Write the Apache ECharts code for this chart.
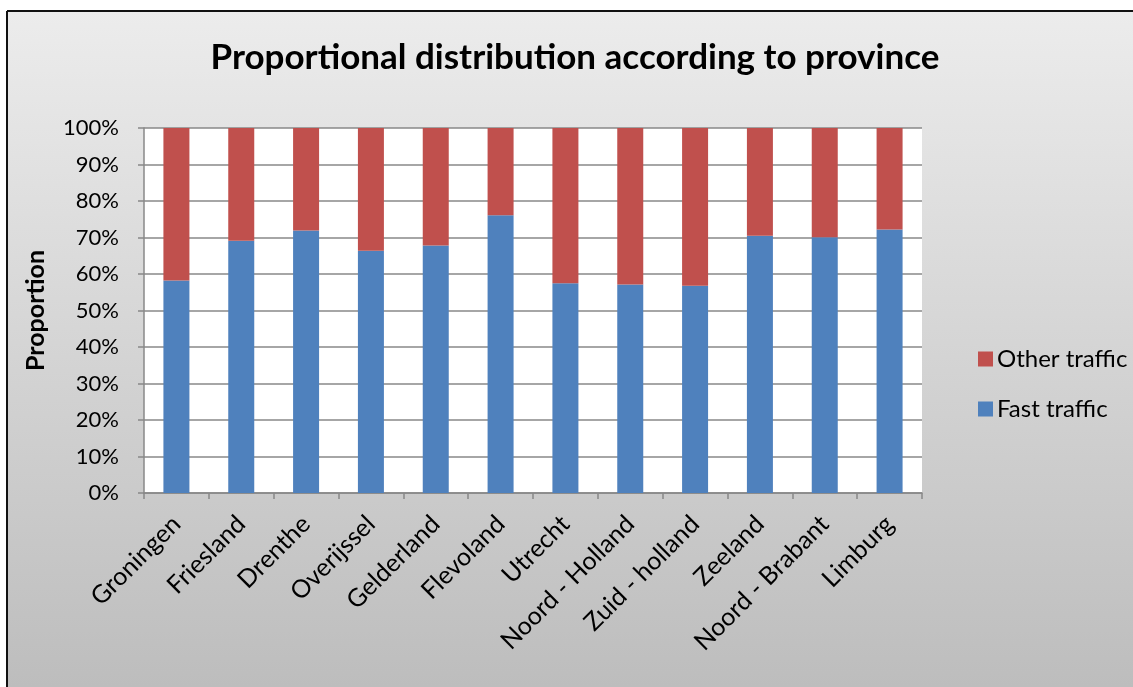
<!DOCTYPE html>
<html>
<head>
<meta charset="utf-8">
<script src="https://cdn.jsdelivr.net/npm/echarts@6/dist/echarts.min.js"></script>
<style>
html,body{margin:0;padding:0;background:#fff;}
#c{width:1133px;height:687px;}
</style>
</head>
<body>
<div id="c"></div>
<script>
const categories = ['Groningen','Friesland','Drenthe','Overijssel','Gelderland','Flevoland','Utrecht','Noord - Holland','Zuid - holland','Zeeland','Noord - Brabant','Limburg'];
const fastTraffic = [58.2, 69.1, 71.9, 66.4, 67.8, 76.1, 57.5, 57.1, 56.8, 70.5, 70.1, 72.2];
const otherTraffic = [41.8, 30.9, 28.1, 33.6, 32.2, 23.9, 42.5, 42.9, 43.2, 29.5, 29.9, 27.8];
const titleText = 'Proportional distribution according to province';
const yAxisName = 'Proportion';

const FONT = 'Lato, "Open Sans", sans-serif';
const chart = echarts.init(document.getElementById('c'));
chart.setOption({
  backgroundColor: 'transparent',
  animation: false,
  graphic: [
    {type:'rect', z:-10, silent:true, shape:{x:8, y:12, width:1125, height:675},
     style:{fill:new echarts.graphic.LinearGradient(0,0,0,1,[{offset:0,color:'#ececec'},{offset:1,color:'#bdbdbd'}])}},
    {type:'line', z:-5, silent:true, shape:{x1:7, y1:11, x2:1133, y2:11}, style:{stroke:'#111', lineWidth:2}},
    {type:'line', z:-5, silent:true, shape:{x1:7, y1:11, x2:7, y2:687}, style:{stroke:'#111', lineWidth:2}}
  ],
  title: {
    text: titleText,
    left: 570, top: 35, textAlign: 'center',
    textStyle: {fontFamily: FONT, fontWeight: 'bold', fontSize: 35, color: '#000'}
  },
  legend: {
    data: ['Other traffic','Fast traffic'],
    orient: 'vertical',
    left: 973, top: 342,
    itemWidth: 15, itemHeight: 15, itemGap: 26,
    icon: 'rect',
    textStyle: {fontFamily: FONT, fontSize: 24, lineHeight: 20, color: '#000', padding:[0,0,0,-1]}
  },
  grid: {left: 144, right: 211, top: 128, bottom: 194, backgroundColor:'#fff', show:true, borderWidth:0},
  xAxis: {
    type: 'category',
    data: categories,
    axisLine: {lineStyle: {color: '#888', width: 1.5}},
    axisTick: {show: true, length: 6, lineStyle: {color:'#888', width:1.5}, alignWithLabel: false},
    axisLabel: {rotate: 45, interval: 0, fontFamily: FONT, fontSize: 25, color: '#000', margin: 27}
  },
  yAxis: {
    type: 'value', min: 0, max: 100, interval: 10,
    name: yAxisName, nameLocation: 'middle', nameGap: 96, nameRotate: 90,
    nameTextStyle: {fontFamily: FONT, fontWeight: 'bold', fontSize: 25, color: '#000'},
    axisLine: {show: true, lineStyle: {color: '#888', width: 1.5}},
    axisTick: {show: true, length: 6, lineStyle: {color:'#888', width:1.5}},
    splitLine: {lineStyle: {color: '#888', width: 1.5}},
    axisLabel: {formatter: '{value}%', fontFamily: FONT, fontSize: 22, color: '#000', margin: 25}
  },
  series: [
    {name: 'Fast traffic', type: 'bar', stack: 't', data: fastTraffic, barWidth: 26, itemStyle: {color: '#4f81bd'}},
    {name: 'Other traffic', type: 'bar', stack: 't', data: otherTraffic, barWidth: 26, itemStyle: {color: '#c0504d'}}
  ]
});
</script>
</body>
</html>
